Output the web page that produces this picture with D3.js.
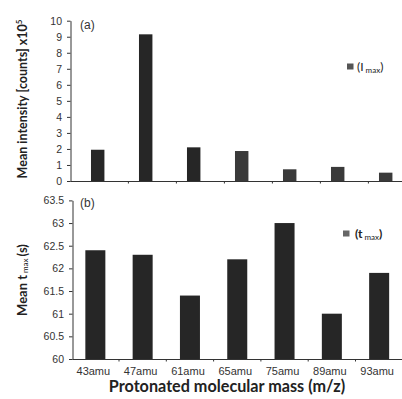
<!DOCTYPE html>
<html>
<head>
<meta charset="utf-8">
<script src="https://cdn.jsdelivr.net/npm/d3@7"></script>
<style>
  html, body { margin: 0; padding: 0; background: #fff; }
  svg { display: block; }
</style>
</head>
<body>
<svg id="chart" width="402" height="399"></svg>
<script>
// two stacked panels: (a) mean intensity, (b) mean t max
const categories = ["43amu", "47amu", "61amu", "65amu", "75amu", "89amu", "93amu"];
const intensity = [1.95, 9.15, 2.1, 1.87, 0.73, 0.88, 0.52];   // x10^5 counts
const tmax = [62.4, 62.3, 61.4, 62.2, 63.0, 61.0, 61.9];       // seconds
const intensityTicks = [0, 1, 2, 3, 4, 5, 6, 7, 8, 9, 10];
const tmaxTicks = [60, 60.5, 61, 61.5, 62, 62.5, 63, 63.5];

const svg = d3.select("#chart");
const ink = "#333";
const barFill = "#262626";
const tickFont = "'Liberation Sans', Arial, sans-serif";
const titleFont = "Lato, 'Open Sans', sans-serif";

function styleAxis(g) {
  g.select(".domain").attr("stroke", ink);
  g.selectAll(".tick line").attr("stroke", ink);
  g.selectAll("text").attr("fill", ink)
    .style("font-family", tickFont).style("font-size", "10.5px");
}

// ---------- panel (a) ----------
const xa = d3.scaleBand().domain(categories)
  .range([73.7, 73.7 + 7 * 48]).paddingInner(0.72).paddingOuter(0.36);
const ya = d3.scaleLinear().domain([0, 10]).range([181, 20.7]);

svg.append("g").attr("transform", "translate(70.5,0)")
  .call(d3.axisLeft(ya).tickValues(intensityTicks).tickSize(3.5).tickSizeOuter(0).tickPadding(5))
  .call(styleAxis);

svg.append("line")
  .attr("x1", 70.5).attr("x2", 402).attr("y1", ya(0) + 0.5).attr("y2", ya(0) + 0.5)
  .attr("stroke", ink);

svg.selectAll("line.xa-tick").data(categories.slice(0, 6)).join("line")
  .attr("class", "xa-tick")
  .attr("x1", d => xa(d) + xa.bandwidth() / 2 + 30.7)
  .attr("x2", d => xa(d) + xa.bandwidth() / 2 + 30.7)
  .attr("y1", ya(0) + 0.5).attr("y2", ya(0) + 2.5)
  .attr("stroke", ink);

svg.selectAll("rect.bar-a").data(categories).join("rect")
  .attr("class", "bar-a")
  .attr("x", d => xa(d)).attr("width", xa.bandwidth())
  .attr("y", (d, i) => ya(intensity[i]))
  .attr("height", (d, i) => ya(0) - ya(intensity[i]))
  .attr("fill", (d, i) => i < 3 ? barFill : "#3a3a3a");

svg.append("text").attr("x", 80).attr("y", 29)
  .attr("fill", ink).style("font-family", tickFont).style("font-size", "12px")
  .text("(a)");

// legend (a)
svg.append("rect").attr("x", 347).attr("y", 63.5).attr("width", 6.5).attr("height", 6)
  .attr("fill", "#555");
const legA = svg.append("text").attr("x", 357).attr("y", 71)
  .attr("fill", "#222").style("font-family", titleFont).style("font-size", "12px");
legA.append("tspan").text("(I");
legA.append("tspan").attr("dy", 2).attr("dx", 2).style("font-size", "8px").text("max");
legA.append("tspan").attr("dy", -2).text(")");

// y title (a)
const ta = svg.append("text")
  .attr("transform", "translate(27,99) rotate(-90)")
  .attr("text-anchor", "middle")
  .attr("fill", "#222").style("font-family", titleFont)
  .style("font-size", "12.5px").style("font-weight", 700);
ta.append("tspan").text("Mean intensity [counts] x10");
ta.append("tspan").attr("dy", -5).style("font-size", "8px").text("5");

// ---------- panel (b) ----------
const xb = d3.scaleBand().domain(categories)
  .range([71.7, 71.7 + 7 * 47.3]).paddingInner(0.577).paddingOuter(0.2885);
const yb = d3.scaleLinear().domain([60, 63.5]).range([359, 200.4]);

svg.append("g").attr("transform", "translate(72.5,0)")
  .call(d3.axisLeft(yb).tickValues(tmaxTicks).tickFormat(d => d).tickSize(3.5).tickSizeOuter(0).tickPadding(5))
  .call(styleAxis);

svg.append("line")
  .attr("x1", 72.5).attr("x2", 402).attr("y1", yb(60) + 0.5).attr("y2", yb(60) + 0.5)
  .attr("stroke", ink);

svg.selectAll("line.xb-tick").data(categories.slice(1)).join("line")
  .attr("class", "xb-tick")
  .attr("x1", d => xb(d) - xb.step() * xb.paddingInner() / 2)
  .attr("x2", d => xb(d) - xb.step() * xb.paddingInner() / 2)
  .attr("y1", yb(60) + 0.5).attr("y2", yb(60) + 2.5)
  .attr("stroke", ink);

svg.selectAll("rect.bar-b").data(categories).join("rect")
  .attr("class", "bar-b")
  .attr("x", d => xb(d)).attr("width", xb.bandwidth())
  .attr("y", (d, i) => yb(tmax[i]))
  .attr("height", (d, i) => yb(60) - yb(tmax[i]))
  .attr("fill", barFill);

svg.selectAll("text.cat").data(categories).join("text")
  .attr("class", "cat")
  .attr("x", d => xb(d) + xb.bandwidth() / 2 - 2).attr("y", 375)
  .attr("text-anchor", "middle").attr("fill", ink)
  .style("font-family", tickFont).style("font-size", "11px")
  .text(d => d);

svg.append("text").attr("x", 80).attr("y", 207)
  .attr("fill", ink).style("font-family", tickFont).style("font-size", "12px")
  .text("(b)");

// legend (b)
svg.append("rect").attr("x", 343).attr("y", 230.5).attr("width", 6.5).attr("height", 6)
  .attr("fill", "#666");
const legB = svg.append("text").attr("x", 355).attr("y", 238)
  .attr("fill", "#222").style("font-family", titleFont).style("font-size", "12px")
  .style("font-weight", 700);
legB.append("tspan").text("(t");
legB.append("tspan").attr("dy", 2).attr("dx", 2).style("font-size", "8px").style("font-weight", 400).text("max");
legB.append("tspan").attr("dy", -2).text(")");

// y title (b)
const tb = svg.append("text")
  .attr("transform", "translate(27,280) rotate(-90)")
  .attr("text-anchor", "middle")
  .attr("fill", "#222").style("font-family", titleFont)
  .style("font-size", "13px").style("font-weight", 700);
tb.append("tspan").text("Mean t");
tb.append("tspan").attr("dx", 2).attr("dy", 1).style("font-size", "8px").style("font-weight", 400).text("max");
tb.append("tspan").attr("dx", 2).attr("dy", -1).text("(s)");

// x title
svg.append("text").attr("x", 227).attr("y", 392)
  .attr("text-anchor", "middle").attr("fill", "#222")
  .style("font-family", titleFont).style("font-size", "16.2px").style("font-weight", 700)
  .text("Protonated molecular mass (m/z)");
</script>
</body>
</html>
